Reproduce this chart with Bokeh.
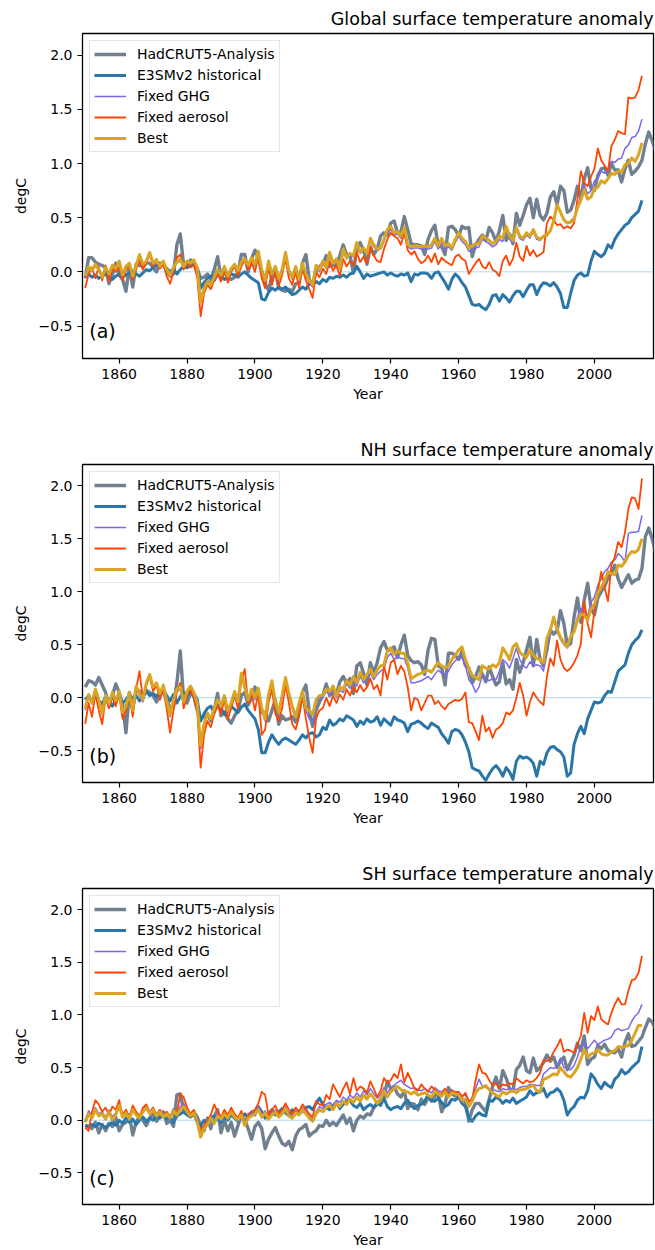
from bokeh.plotting import figure
from bokeh.models import (Range1d, FixedTicker, CustomJSTickFormatter, Legend, LegendItem,
                          Label, Span)
from bokeh.layouts import column
from bokeh.embed import file_html
from bokeh.resources import INLINE

# ---------------- data (annual means, degC anomaly) ----------------
OBS_START = 1850
MODEL_START = 1850

# Global
G_HAD = [-0.06, 0.13, 0.13, 0.09, 0.07, 0.06, 0.04, -0.11, -0.03, 0.08,
         -0.03, -0.07, -0.18, 0.05, -0.14, 0.07, 0.06, 0.05, 0.08, 0.08,
         0.04, 0.00, 0.08, 0.07, 0.01, -0.04, -0.02, 0.25, 0.35, 0.06,
         0.04, 0.11, 0.08, 0.03, -0.06, -0.05, -0.02, -0.07, 0.02, 0.14,
         -0.05, 0.00, -0.06, -0.07, -0.05, -0.01, 0.16, 0.16, 0.00, 0.12,
         0.20, 0.13, -0.01, -0.11, -0.17, -0.04, 0.02, -0.15, -0.17, -0.18,
         -0.16, -0.18, -0.11, -0.10, 0.08, 0.16, -0.07, -0.12, 0.01, 0.05,
         0.07, 0.15, 0.05, 0.06, 0.06, 0.15, 0.25, 0.16, 0.15, -0.01,
         0.22, 0.27, 0.20, 0.07, 0.23, 0.16, 0.21, 0.33, 0.36, 0.34,
         0.45, 0.47, 0.36, 0.37, 0.51, 0.39, 0.26, 0.25, 0.25, 0.24,
         0.16, 0.30, 0.38, 0.43, 0.24, 0.23, 0.16, 0.41, 0.42, 0.39,
         0.33, 0.42, 0.40, 0.41, 0.14, 0.25, 0.30, 0.34, 0.29, 0.41,
         0.36, 0.28, 0.38, 0.52, 0.29, 0.35, 0.26, 0.54, 0.43, 0.52,
         0.62, 0.68, 0.50, 0.67, 0.52, 0.48, 0.54, 0.69, 0.74, 0.62,
         0.79, 0.75, 0.55, 0.57, 0.66, 0.79, 0.68, 0.86, 0.96, 0.77,
         0.75, 0.89, 0.95, 0.96, 0.89, 1.00, 0.94, 0.94, 0.83, 0.95,
         1.03, 0.90, 0.93, 0.97, 1.03, 1.18, 1.29, 1.21, 1.12, 1.25,
         1.27]
G_E3SM = [-0.04, -0.02, -0.05, -0.03, -0.06, -0.04, -0.02, -0.05, -0.07, -0.04,
          -0.02, -0.05, -0.03, -0.01, 0.01, -0.02, -0.04, -0.01, 0.02, 0.01,
          0.04, 0.06, 0.05, 0.07, 0.03, 0.00, 0.03, -0.02, 0.02, 0.05,
          0.04, 0.06, 0.08, 0.03, -0.15, -0.10, -0.06, -0.04, -0.08, -0.02,
          -0.04, -0.07, -0.05, -0.02, -0.03, -0.05, -0.02, 0.00, -0.03, -0.06,
          -0.08, -0.10, -0.25, -0.26, -0.19, -0.15, -0.17, -0.14, -0.16, -0.14,
          -0.18, -0.21, -0.20, -0.17, -0.14, -0.16, -0.11, -0.12, -0.09, -0.11,
          -0.07, -0.09, -0.05, -0.06, -0.04, -0.05, -0.03, -0.05, -0.02, -0.01,
          0.05, 0.00, -0.06, -0.02, -0.04, -0.03, -0.02, -0.01, 0.00, -0.03,
          -0.01, -0.03, -0.04, -0.02, -0.03, -0.01, -0.09, -0.02, -0.03, -0.01,
          -0.01, -0.02, -0.06, -0.01, 0.00, -0.05, -0.10, -0.16, -0.07, -0.02,
          -0.05, -0.10, -0.14, -0.22, -0.30, -0.31, -0.30, -0.33, -0.35, -0.30,
          -0.22, -0.21, -0.27, -0.21, -0.24, -0.28, -0.22, -0.18, -0.18, -0.23,
          -0.17, -0.12, -0.12, -0.21, -0.14, -0.10, -0.11, -0.13, -0.10, -0.14,
          -0.20, -0.33, -0.33, -0.20, -0.08, -0.03, -0.01, -0.04, -0.03, 0.10,
          0.19, 0.16, 0.14, 0.17, 0.25, 0.22, 0.30, 0.35, 0.39, 0.43,
          0.45, 0.50, 0.53, 0.56, 0.66]
G_GHG = [-0.06, 0.03, 0.02, 0.05, 0.03, -0.04, 0.02, -0.03, 0.04, 0.04,
         0.08, -0.02, 0.03, 0.06, -0.03, 0.05, 0.13, 0.06, 0.09, 0.15,
         0.07, 0.09, 0.06, 0.08, 0.01, -0.02, 0.03, 0.08, 0.10, 0.04,
         0.08, 0.07, 0.09, 0.02, -0.25, -0.14, -0.08, -0.10, -0.04, 0.01,
         -0.02, 0.03, -0.05, 0.02, 0.05, 0.00, 0.07, 0.10, 0.05, 0.11,
         0.05, 0.16, 0.00, -0.09, 0.07, -0.04, 0.03, -0.07, 0.00, 0.15,
         -0.01, -0.07, 0.03, -0.09, 0.05, -0.04, -0.10, -0.14, 0.04, 0.00,
         0.08, 0.03, 0.15, 0.07, 0.10, 0.02, 0.18, 0.12, 0.15, 0.14,
         0.24, 0.17, 0.20, 0.16, 0.28, 0.23, 0.20, 0.21, 0.28, 0.36,
         0.39, 0.34, 0.35, 0.31, 0.38, 0.23, 0.21, 0.22, 0.22, 0.21,
         0.22, 0.21, 0.22, 0.28, 0.21, 0.27, 0.21, 0.23, 0.20, 0.27,
         0.33, 0.28, 0.25, 0.19, 0.20, 0.22, 0.23, 0.30, 0.28, 0.26,
         0.23, 0.25, 0.30, 0.28, 0.39, 0.30, 0.27, 0.39, 0.31, 0.29,
         0.34, 0.31, 0.37, 0.30, 0.29, 0.32, 0.33, 0.38, 0.47, 0.60,
         0.55, 0.49, 0.45, 0.47, 0.50, 0.61, 0.69, 0.80, 0.72, 0.75,
         0.84, 0.86, 0.93, 0.91, 0.96, 1.02, 1.01, 1.04, 1.05, 1.14,
         1.17, 1.24, 1.25, 1.30, 1.41]
G_AER = [-0.15, -0.02, 0.04, -0.06, 0.05, -0.08, 0.06, -0.09, 0.03, 0.00,
         0.04, -0.08, 0.02, 0.06, -0.07, 0.03, 0.10, 0.02, 0.08, 0.17,
         0.05, 0.12, 0.03, 0.07, -0.04, -0.11, 0.00, 0.13, 0.16, 0.02,
         0.08, 0.04, 0.06, -0.05, -0.41, -0.20, -0.12, -0.16, -0.08, -0.02,
         -0.09, 0.02, -0.10, 0.00, 0.05, -0.04, 0.05, 0.11, 0.02, 0.08,
         0.00, 0.14, -0.06, -0.15, 0.04, -0.12, 0.00, -0.13, -0.03, 0.12,
         -0.06, -0.12, 0.00, -0.15, 0.03, -0.08, -0.16, -0.24, 0.00, -0.05,
         0.03, -0.02, 0.10, 0.01, 0.06, -0.04, 0.12, 0.05, 0.10, 0.06,
         0.18, 0.09, 0.14, 0.08, 0.23, 0.15, 0.10, 0.09, 0.21, 0.30,
         0.36, 0.33, 0.31, 0.25, 0.36, 0.20, 0.16, 0.19, 0.12, 0.08,
         0.10, 0.15, 0.09, 0.17, 0.07, 0.13, 0.10, 0.08, 0.06, 0.14,
         0.16, 0.12, 0.10, -0.02, 0.03, 0.08, 0.12, 0.05, 0.03, 0.09,
         0.02, 0.00, -0.04, 0.10, 0.15, 0.06, 0.12, 0.27, 0.14, 0.10,
         0.24, 0.15, 0.20, 0.14, 0.16, 0.18, 0.45, 0.51, 0.48, 0.43,
         0.44, 0.40, 0.42, 0.40, 0.45, 0.67, 0.93, 0.82, 0.79, 0.88,
         0.95, 1.14, 1.03, 0.98, 0.93, 1.16, 1.22, 1.30, 1.28, 1.27,
         1.61, 1.60, 1.61, 1.68, 1.81]
G_BEST = [-0.04, 0.05, 0.01, 0.07, 0.02, -0.05, 0.04, -0.02, 0.06, 0.03,
          0.10, -0.03, 0.05, 0.08, -0.04, 0.06, 0.16, 0.07, 0.10, 0.18,
          0.08, 0.11, 0.05, 0.10, 0.02, -0.03, 0.04, 0.09, 0.12, 0.05,
          0.10, 0.08, 0.11, 0.04, -0.28, -0.16, -0.09, -0.12, -0.05, 0.02,
          -0.03, 0.05, -0.04, 0.03, 0.07, 0.01, 0.09, 0.12, 0.06, 0.13,
          0.07, 0.19, 0.02, -0.08, 0.10, -0.02, 0.05, -0.06, 0.02, 0.18,
          0.01, -0.05, 0.05, -0.07, 0.08, -0.02, -0.08, -0.12, 0.06, 0.02,
          0.10, 0.04, 0.18, 0.08, 0.12, 0.03, 0.21, 0.13, 0.17, 0.15,
          0.27, 0.18, 0.22, 0.17, 0.31, 0.25, 0.21, 0.22, 0.30, 0.39,
          0.42, 0.36, 0.37, 0.33, 0.41, 0.25, 0.23, 0.24, 0.24, 0.23,
          0.24, 0.23, 0.25, 0.31, 0.24, 0.31, 0.24, 0.26, 0.22, 0.30,
          0.36, 0.31, 0.28, 0.22, 0.24, 0.26, 0.26, 0.33, 0.31, 0.29,
          0.26, 0.28, 0.33, 0.31, 0.42, 0.33, 0.29, 0.41, 0.33, 0.31,
          0.36, 0.33, 0.39, 0.32, 0.30, 0.33, 0.34, 0.38, 0.47, 0.62,
          0.55, 0.48, 0.45, 0.46, 0.48, 0.59, 0.66, 0.76, 0.67, 0.69,
          0.77, 0.78, 0.84, 0.82, 0.86, 0.91, 0.90, 0.93, 0.92, 0.99,
          1.00, 1.05, 1.02, 1.08, 1.19]

# Northern Hemisphere
N_HAD = [0.10, 0.16, 0.15, 0.12, 0.19, 0.12, 0.05, -0.08, 0.02, 0.13,
         0.05, -0.06, -0.33, 0.05, -0.10, 0.08, 0.06, 0.02, 0.07, 0.05,
         0.02, -0.04, 0.04, 0.06, -0.02, -0.10, -0.08, 0.14, 0.44, -0.02,
         -0.05, 0.05, 0.01, -0.12, -0.20, -0.18, -0.15, -0.22, -0.12, 0.04,
         -0.17, -0.13, -0.20, -0.24, -0.17, -0.12, 0.02, 0.05, -0.07, 0.00,
         0.10, 0.02, -0.14, -0.14, -0.22, -0.12, -0.02, -0.25, -0.17, -0.21,
         -0.20, -0.18, -0.23, -0.13, 0.05, 0.12, -0.13, -0.27, -0.12, -0.04,
         0.02, 0.13, 0.02, 0.05, 0.03, 0.15, 0.20, 0.14, 0.18, 0.04,
         0.30, 0.33, 0.23, 0.12, 0.33, 0.24, 0.33, 0.47, 0.53, 0.45,
         0.45, 0.48, 0.38, 0.50, 0.59, 0.40, 0.35, 0.33, 0.34, 0.31,
         0.22, 0.45, 0.56, 0.55, 0.30, 0.28, 0.12, 0.42, 0.42, 0.40,
         0.36, 0.44, 0.30, 0.28, 0.14, 0.20, 0.29, 0.22, 0.15, 0.29,
         0.20, 0.12, 0.15, 0.33, 0.13, 0.17, 0.08, 0.36, 0.24, 0.33,
         0.45, 0.57, 0.30, 0.55, 0.36, 0.30, 0.45, 0.64, 0.60, 0.63,
         0.82, 0.70, 0.49, 0.51, 0.76, 0.94, 0.71, 0.92, 1.08, 0.85,
         0.78, 0.94, 1.00, 1.05, 1.13, 1.18, 1.25, 1.12, 1.04, 1.10,
         1.16, 1.08, 1.11, 1.12, 1.22, 1.52, 1.60, 1.50, 1.37, 1.55,
         1.62]
N_E3SM = [-0.02, 0.02, -0.04, 0.05, -0.03, -0.06, 0.01, -0.04, -0.08, -0.02,
          0.01, -0.05, -0.02, 0.03, -0.01, 0.02, -0.03, 0.00, 0.06, 0.02,
          0.04, 0.01, 0.05, 0.07, 0.02, -0.03, 0.03, -0.05, 0.01, 0.05,
          0.02, 0.06, 0.04, -0.02, -0.22, -0.15, -0.10, -0.08, -0.14, -0.06,
          -0.10, -0.16, -0.12, -0.08, -0.11, -0.14, -0.09, -0.06, -0.12, -0.16,
          -0.20, -0.30, -0.52, -0.52, -0.42, -0.35, -0.40, -0.44, -0.40, -0.38,
          -0.40, -0.42, -0.44, -0.40, -0.35, -0.38, -0.34, -0.33, -0.37, -0.35,
          -0.28, -0.30, -0.21, -0.26, -0.24, -0.20, -0.22, -0.17, -0.19, -0.21,
          -0.27, -0.22, -0.25, -0.20, -0.23, -0.22, -0.18, -0.26, -0.20, -0.23,
          -0.26, -0.18, -0.21, -0.22, -0.24, -0.32, -0.25, -0.24, -0.22, -0.24,
          -0.27, -0.29, -0.24, -0.26, -0.28, -0.34, -0.38, -0.43, -0.32, -0.30,
          -0.31, -0.35, -0.42, -0.51, -0.66, -0.68, -0.69, -0.74, -0.78, -0.72,
          -0.67, -0.64, -0.68, -0.74, -0.66, -0.70, -0.77, -0.60, -0.55, -0.57,
          -0.56, -0.58, -0.62, -0.74, -0.60, -0.63, -0.52, -0.47, -0.46, -0.49,
          -0.51, -0.56, -0.74, -0.71, -0.44, -0.34, -0.27, -0.34, -0.20, -0.12,
          -0.04, -0.05, -0.04, 0.02, 0.06, 0.05, 0.15, 0.25, 0.28, 0.31,
          0.42, 0.50, 0.54, 0.57, 0.64]
N_GHG = [-0.12, 0.01, -0.06, 0.06, -0.04, -0.16, 0.00, -0.07, 0.03, -0.05,
         0.04, -0.15, -0.10, 0.03, -0.13, 0.09, 0.02, -0.04, 0.12, 0.19,
         0.08, 0.12, 0.02, 0.10, -0.05, -0.18, -0.04, 0.06, 0.08, -0.06,
         0.04, 0.09, 0.03, -0.07, -0.48, -0.27, -0.17, -0.21, -0.12, -0.04,
         -0.10, 0.00, -0.14, -0.07, 0.04, -0.06, 0.21, 0.08, -0.04, 0.06,
         -0.02, 0.07, -0.12, -0.22, 0.01, 0.14, -0.06, -0.16, 0.00, 0.17,
         0.02, -0.10, -0.20, -0.07, 0.04, -0.12, -0.20, -0.24, -0.05, 0.00,
         0.00, 0.06, 0.03, 0.08, 0.00, 0.07, 0.05, 0.13, 0.09, 0.17,
         0.11, 0.20, 0.14, 0.19, 0.23, 0.17, 0.22, 0.25, 0.27, 0.38,
         0.42, 0.36, 0.39, 0.37, 0.37, 0.28, 0.14, 0.14, 0.15, 0.16,
         0.18, 0.20, 0.17, 0.22, 0.26, 0.23, 0.21, 0.25, 0.31, 0.35,
         0.37, 0.38, 0.30, 0.17, 0.13, 0.05, 0.10, 0.22, 0.18, 0.16,
         0.18, 0.17, 0.25, 0.36, 0.33, 0.28, 0.37, 0.47, 0.36, 0.30,
         0.28, 0.34, 0.30, 0.31, 0.30, 0.25, 0.50, 0.62, 0.74, 0.62,
         0.55, 0.50, 0.47, 0.57, 0.63, 0.76, 0.84, 0.81, 0.77, 0.90,
         0.95, 1.06, 1.12, 1.19, 1.22, 1.28, 1.30, 1.36, 1.33, 1.28,
         1.55, 1.56, 1.56, 1.57, 1.72]
N_AER = [-0.25, -0.05, -0.18, 0.04, -0.12, -0.25, 0.00, -0.10, 0.02, -0.08,
         0.03, -0.20, -0.12, 0.02, -0.18, 0.08, 0.25, -0.02, 0.12, 0.20,
         0.06, 0.12, -0.02, 0.08, -0.10, -0.33, -0.12, 0.05, 0.14, -0.10,
         0.02, 0.08, 0.00, -0.12, -0.66, -0.35, -0.22, -0.28, -0.15, -0.08,
         -0.15, -0.02, -0.20, -0.10, 0.02, -0.10, 0.16, 0.27, -0.06, 0.04,
         -0.12, 0.05, -0.35, -0.30, -0.05, 0.08, -0.15, -0.22, -0.10, 0.12,
         -0.05, -0.25, -0.30, -0.18, 0.02, -0.20, -0.38, -0.52, -0.20, -0.12,
         -0.10, 0.00, -0.08, 0.02, -0.05, 0.03, -0.02, 0.08, 0.02, 0.10,
         0.05, 0.12, 0.06, 0.10, 0.18, 0.08, 0.12, 0.02, 0.30, 0.17,
         0.33, 0.36, 0.22, 0.30, 0.25, 0.10, -0.12, 0.00, -0.02, -0.12,
         -0.05, 0.02, 0.02, -0.06, -0.03, -0.08, -0.11, -0.06, -0.04, -0.02,
         -0.03, -0.01, 0.05, -0.23, -0.24, -0.32, -0.40, -0.17, -0.32, -0.28,
         -0.38, -0.30, -0.28, -0.24, -0.14, -0.16, -0.12, 0.00, 0.14, 0.02,
         -0.17, -0.04, 0.05, 0.00, -0.04, -0.07, 0.20, 0.37, 0.30, 0.54,
         0.36, 0.28, 0.25, 0.28, 0.33, 0.40, 0.51, 0.91, 0.70, 0.57,
         0.82, 1.00, 1.19, 1.04, 0.91, 1.25, 1.33, 1.47, 1.42, 1.56,
         1.78, 1.89, 1.88, 1.78, 2.07]
N_BEST = [-0.10, 0.03, -0.05, 0.08, -0.02, -0.15, 0.02, -0.06, 0.05, -0.03,
          0.06, -0.14, -0.08, 0.05, -0.12, 0.11, 0.04, -0.02, 0.14, 0.22,
          0.10, 0.14, 0.04, 0.12, -0.03, -0.16, -0.02, 0.08, 0.10, -0.04,
          0.06, 0.11, 0.05, -0.05, -0.45, -0.25, -0.15, -0.20, -0.10, -0.02,
          -0.08, 0.02, -0.12, -0.05, 0.06, -0.04, 0.23, 0.10, -0.02, 0.08,
          0.00, 0.09, -0.10, -0.20, 0.03, 0.16, -0.04, -0.14, 0.02, 0.19,
          0.04, -0.08, -0.18, -0.05, 0.06, -0.10, -0.12, -0.16, -0.02, 0.02,
          0.02, 0.08, 0.06, 0.11, 0.02, 0.10, 0.08, 0.16, 0.12, 0.20,
          0.14, 0.24, 0.17, 0.22, 0.27, 0.20, 0.26, 0.30, 0.31, 0.44,
          0.47, 0.41, 0.44, 0.42, 0.42, 0.33, 0.18, 0.20, 0.22, 0.23,
          0.25, 0.26, 0.24, 0.29, 0.33, 0.30, 0.28, 0.30, 0.36, 0.40,
          0.45, 0.48, 0.36, 0.28, 0.21, 0.19, 0.17, 0.30, 0.28, 0.27,
          0.31, 0.29, 0.33, 0.47, 0.42, 0.36, 0.48, 0.51, 0.43, 0.40,
          0.38, 0.45, 0.40, 0.37, 0.36, 0.33, 0.56, 0.64, 0.76, 0.65,
          0.57, 0.52, 0.48, 0.58, 0.62, 0.73, 0.79, 0.78, 0.73, 0.84,
          0.88, 0.99, 1.04, 1.10, 1.19, 1.17, 1.16, 1.25, 1.24, 1.28,
          1.34, 1.38, 1.37, 1.40, 1.50]

# Southern Hemisphere
S_HAD = [-0.05, -0.06, -0.08, -0.02, -0.12, -0.04, -0.10, -0.03, -0.06, 0.03,
         -0.10, -0.04, -0.02, 0.05, -0.14, -0.02, 0.04, 0.00, -0.05, 0.02,
         0.06, -0.01, 0.04, 0.08, -0.03, 0.00, -0.06, 0.24, 0.25, 0.10,
         0.06, 0.05, 0.08, 0.03, -0.05, -0.10, 0.02, -0.08, 0.04, 0.10,
         -0.12, 0.00, -0.10, -0.02, -0.15, -0.05, 0.05, 0.00, -0.08, -0.18,
         -0.06, -0.02, -0.08, -0.27, -0.18, -0.12, -0.07, -0.15, -0.22, -0.24,
         -0.20, -0.28, -0.15, -0.09, -0.07, -0.04, -0.15, -0.12, -0.10, -0.05,
         -0.06, 0.00, -0.05, -0.02, -0.05, 0.00, 0.05, -0.03, 0.02, -0.10,
         0.00, 0.04, 0.02, 0.06, 0.05, 0.12, 0.15, 0.20, 0.22, 0.37,
         0.30, 0.32, 0.25, 0.22, 0.28, 0.11, 0.16, 0.15, 0.10, 0.20,
         0.15, 0.22, 0.18, 0.23, 0.25, 0.08, 0.15, 0.31, 0.25, 0.23,
         0.23, 0.20, 0.18, -0.01, 0.10, 0.16, 0.16, 0.12, 0.08, 0.20,
         0.32, 0.41, 0.30, 0.47, 0.40, 0.30, 0.28, 0.48, 0.52, 0.60,
         0.47, 0.45, 0.59, 0.47, 0.50, 0.55, 0.62, 0.56, 0.60, 0.50,
         0.56, 0.60, 0.48, 0.55, 0.62, 0.73, 0.66, 0.80, 0.53, 0.58,
         0.60, 0.71, 0.68, 0.72, 0.66, 0.65, 0.64, 0.68, 0.60, 0.74,
         0.82, 0.70, 0.71, 0.75, 0.79, 0.88, 0.96, 0.93, 0.87, 0.92,
         0.90]
S_E3SM = [-0.05, -0.06, -0.04, -0.06, -0.03, -0.05, -0.07, -0.04, -0.02, -0.05,
          0.00, -0.03, 0.02, -0.02, 0.01, -0.04, 0.00, 0.03, -0.01, 0.02,
          0.00, 0.04, 0.02, 0.05, 0.01, 0.03, -0.02, 0.04, 0.06, 0.08,
          0.05, 0.03, 0.06, -0.02, -0.05, 0.00, -0.03, 0.02, 0.04, 0.01,
          -0.02, 0.03, 0.00, 0.05, 0.02, -0.01, 0.04, 0.06, 0.02, 0.08,
          0.05, 0.13, 0.08, 0.02, 0.06, 0.10, 0.05, 0.08, 0.11, 0.07,
          0.04, 0.10, 0.06, 0.09, 0.08, 0.12, 0.13, 0.10, 0.16, 0.21,
          0.15, 0.12, 0.10, 0.14, 0.17, 0.11, 0.15, 0.18, 0.19, 0.14,
          0.12, 0.16, 0.10, 0.13, 0.15, 0.12, 0.17, 0.14, 0.21, 0.13,
          0.10, 0.12, 0.13, 0.11, 0.16, 0.19, 0.14, 0.11, 0.14, 0.15,
          0.18, 0.24, 0.19, 0.18, 0.21, 0.17, 0.13, 0.15, 0.20, 0.19,
          0.22, 0.16, 0.13, 0.02, -0.01, 0.04, 0.07, 0.05, 0.04, 0.19,
          0.18, 0.22, 0.20, 0.16, 0.19, 0.17, 0.21, 0.16, 0.18, 0.20,
          0.22, 0.28, 0.24, 0.26, 0.27, 0.30, 0.22, 0.26, 0.27, 0.30,
          0.27, 0.19, 0.05, 0.10, 0.13, 0.19, 0.22, 0.21, 0.28, 0.44,
          0.40, 0.34, 0.30, 0.36, 0.33, 0.31, 0.39, 0.42, 0.48, 0.44,
          0.46, 0.50, 0.53, 0.56, 0.70]
S_GHG = [0.00, 0.09, 0.04, 0.12, 0.06, 0.08, 0.03, 0.10, 0.03, 0.07,
         0.15, 0.05, 0.09, 0.03, 0.12, 0.07, 0.04, 0.10, 0.14, 0.08,
         0.12, 0.06, 0.10, 0.05, 0.08, 0.04, 0.11, 0.07, 0.13, 0.16,
         0.10, 0.06, 0.09, 0.00, -0.14, -0.06, -0.02, 0.04, -0.01, 0.06,
         0.03, 0.08, 0.04, 0.10, 0.05, 0.02, 0.07, -0.02, 0.04, 0.06,
         0.09, 0.14, 0.05, 0.09, 0.03, 0.07, 0.10, 0.05, 0.08, 0.13,
         0.06, 0.04, 0.09, 0.07, 0.12, 0.08, 0.04, 0.01, 0.08, 0.13,
         0.11, 0.15, 0.17, 0.14, 0.19, 0.17, 0.22, 0.19, 0.24, 0.21,
         0.26, 0.22, 0.28, 0.24, 0.30, 0.25, 0.21, 0.24, 0.31, 0.26,
         0.31, 0.33, 0.36, 0.38, 0.34, 0.32, 0.30, 0.31, 0.29, 0.28,
         0.30, 0.28, 0.26, 0.31, 0.28, 0.27, 0.30, 0.25, 0.29, 0.26,
         0.27, 0.23, 0.24, 0.17, 0.22, 0.30, 0.39, 0.32, 0.31, 0.30,
         0.29, 0.28, 0.27, 0.30, 0.29, 0.30, 0.30, 0.29, 0.31, 0.32,
         0.32, 0.34, 0.34, 0.33, 0.33, 0.44, 0.47, 0.50, 0.49, 0.52,
         0.59, 0.50, 0.49, 0.48, 0.52, 0.60, 0.70, 0.74, 0.68, 0.72,
         0.76, 0.72, 0.74, 0.76, 0.77, 0.79, 0.85, 0.87, 0.85, 0.86,
         0.87, 0.94, 0.99, 1.02, 1.10]
S_AER = [-0.07, -0.10, 0.08, 0.19, 0.15, 0.08, 0.12, 0.05, 0.13, 0.10,
         0.19, 0.05, 0.10, 0.03, 0.14, 0.08, 0.04, 0.12, 0.15, 0.07,
         0.12, 0.05, 0.10, 0.04, 0.08, 0.03, 0.10, 0.06, 0.25, 0.22,
         0.12, 0.06, 0.10, -0.01, -0.10, -0.05, 0.00, 0.05, 0.15, 0.08,
         0.03, 0.10, 0.05, 0.12, 0.06, 0.02, 0.09, -0.04, 0.06, 0.08,
         0.10, 0.16, 0.27, 0.24, 0.05, 0.10, 0.14, 0.06, 0.10, 0.16,
         0.10, 0.06, 0.12, 0.08, 0.15, 0.11, 0.06, 0.03, 0.18, 0.15,
         0.14, 0.24, 0.20, 0.34, 0.28, 0.22, 0.30, 0.36, 0.25, 0.40,
         0.28, 0.32, 0.30, 0.26, 0.37, 0.30, 0.22, 0.28, 0.40, 0.35,
         0.38, 0.44, 0.40, 0.53, 0.36, 0.45, 0.38, 0.30, 0.28, 0.34,
         0.30, 0.27, 0.32, 0.29, 0.26, 0.25, 0.30, 0.24, 0.28, 0.27,
         0.27, 0.22, 0.26, 0.18, 0.20, 0.38, 0.53, 0.45, 0.44, 0.38,
         0.33, 0.35, 0.30, 0.34, 0.33, 0.35, 0.34, 0.40, 0.37, 0.35,
         0.38, 0.36, 0.37, 0.40, 0.45, 0.57, 0.56, 0.58, 0.65, 0.70,
         0.77, 0.65, 0.67, 0.66, 0.64, 0.72, 0.80, 1.02, 0.83, 0.99,
         0.95, 1.08, 0.96, 0.93, 0.91, 1.02, 1.10, 1.16, 1.10, 1.10,
         1.23, 1.33, 1.34, 1.40, 1.56]
S_BEST = [-0.02, 0.06, 0.02, 0.10, 0.04, 0.06, 0.01, 0.08, 0.00, 0.05,
          0.14, 0.03, 0.07, 0.01, 0.10, 0.05, 0.02, 0.08, 0.12, 0.06,
          0.10, 0.04, 0.08, 0.03, 0.06, 0.02, 0.09, 0.05, 0.10, 0.13,
          0.08, 0.04, 0.07, -0.02, -0.16, -0.08, -0.04, 0.02, -0.03, 0.04,
          0.01, 0.06, 0.02, 0.08, 0.03, 0.00, 0.05, -0.05, 0.02, 0.04,
          0.06, 0.10, 0.03, 0.07, 0.01, 0.05, 0.08, 0.03, 0.06, 0.11,
          0.04, 0.02, 0.07, 0.05, 0.10, 0.06, 0.02, -0.01, 0.06, 0.10,
          0.08, 0.12, 0.14, 0.10, 0.16, 0.13, 0.18, 0.15, 0.20, 0.17,
          0.22, 0.18, 0.24, 0.20, 0.25, 0.21, 0.16, 0.19, 0.28, 0.22,
          0.27, 0.30, 0.32, 0.29, 0.27, 0.27, 0.25, 0.27, 0.24, 0.25,
          0.26, 0.24, 0.22, 0.27, 0.25, 0.23, 0.27, 0.22, 0.26, 0.25,
          0.24, 0.19, 0.20, 0.13, 0.18, 0.26, 0.30, 0.31, 0.33, 0.29,
          0.26, 0.24, 0.22, 0.27, 0.25, 0.27, 0.28, 0.26, 0.29, 0.29,
          0.30, 0.32, 0.33, 0.28, 0.27, 0.39, 0.40, 0.42, 0.44, 0.43,
          0.50, 0.46, 0.42, 0.41, 0.45, 0.50, 0.58, 0.67, 0.60, 0.63,
          0.64, 0.67, 0.63, 0.62, 0.62, 0.65, 0.66, 0.70, 0.69, 0.70,
          0.71, 0.76, 0.83, 0.90, 0.90]

SERIES_NAMES = ["HadCRUT5-Analysis", "E3SMv2 historical", "Fixed GHG", "Fixed aerosol", "Best"]
PANEL_TITLES = ["Global surface temperature anomaly", "NH surface temperature anomaly",
                "SH surface temperature anomaly"]
PANEL_LABELS = ["(a)", "(b)", "(c)"]
X_TICKS = [1860, 1880, 1900, 1920, 1940, 1960, 1980, 2000, 2020]

# ---------------- styling ----------------
FONT = "DejaVu Sans"
COLORS = ["#708090", "#2a76a9", "#7b68ee", "#ff4500", "#daa520"]
WIDTHS = [3.4, 3.0, 1.5, 1.8, 3.0]

YFMT = CustomJSTickFormatter(code="""
    return tick < 0 ? '\\u2212' + (-tick).toFixed(1) : tick.toFixed(1);
""")


def years_for(start, series):
    return [start + i for i in range(len(series))]


def make_panel(idx, data, height, border_top, border_bottom):
    p = figure(width=655, height=height, output_backend="svg", toolbar_location=None,
               x_range=Range1d(1849.2, 2017.4), y_range=Range1d(-0.8, 2.2),
               min_border_left=82, min_border_right=2,
               min_border_top=border_top, min_border_bottom=border_bottom)
    p.title.text = PANEL_TITLES[idx]
    p.title.align = "right"
    p.title.text_font = FONT
    p.title.text_font_size = "17.5px"
    p.title.text_font_style = "normal"
    p.title.text_color = "#000000"
    p.title.standoff = 9

    p.grid.visible = False
    p.outline_line_color = "#000000"
    p.outline_line_width = 1.3
    p.background_fill_color = "#ffffff"
    p.border_fill_color = "#ffffff"

    for ax in (p.xaxis[0], p.yaxis[0]):
        ax.axis_line_color = None
        ax.major_tick_in = 0
        ax.major_tick_out = 5
        ax.major_tick_line_width = 1.2
        ax.minor_tick_line_color = None
        ax.major_label_standoff = 5
        ax.major_label_text_font = FONT
        ax.major_label_text_font_size = "14px"
        ax.major_label_text_color = "#000000"
        ax.axis_label_text_font = FONT
        ax.axis_label_text_font_size = "14px"
        ax.axis_label_text_font_style = "normal"
        ax.axis_label_text_color = "#000000"
    p.xaxis[0].ticker = FixedTicker(ticks=X_TICKS)
    p.xaxis[0].axis_label = "Year"
    p.xaxis[0].axis_label_standoff = 4
    p.yaxis[0].ticker = FixedTicker(ticks=[-0.5, 0.0, 0.5, 1.0, 1.5, 2.0])
    p.yaxis[0].formatter = YFMT
    p.yaxis[0].axis_label = "degC"
    p.yaxis[0].axis_label_standoff = 7

    p.add_layout(Span(location=0, dimension="width", line_color="#4f97cf",
                      line_width=0.9, line_dash="1 1", line_alpha=0.9))

    items = []
    starts = [OBS_START, MODEL_START, MODEL_START, MODEL_START, MODEL_START]
    for k, series in enumerate(data):
        r = p.line(years_for(starts[k], series), series, line_color=COLORS[k],
                   line_width=WIDTHS[k], line_join="round")
        items.append(LegendItem(label=SERIES_NAMES[k], renderers=[r]))

    leg = Legend(items=items, location="top_left", margin=7, padding=4, spacing=3,
                 label_height=18, glyph_height=18, glyph_width=32, label_standoff=11,
                 label_text_font=FONT, label_text_font_size="14px", label_text_color="#000000",
                 border_line_color="#cccccc", border_line_width=1,
                 background_fill_color="#ffffff", background_fill_alpha=0.8)
    p.add_layout(leg)

    p.add_layout(Label(x=1851.2, y=-0.55, text=PANEL_LABELS[idx], text_font=FONT,
                       text_font_size="19px", text_baseline="middle", text_align="left",
                       text_color="#000000"))
    return p


p1 = make_panel(0, [G_HAD, G_E3SM, G_GHG, G_AER, G_BEST], 433, 33, 75)
p2 = make_panel(1, [N_HAD, N_E3SM, N_GHG, N_AER, N_BEST], 424, 25, 75)
p3 = make_panel(2, [S_HAD, S_E3SM, S_GHG, S_AER, S_BEST], 393, 25, 42)

layout = column(p1, p2, p3, spacing=0)
open("out.html", "w").write(file_html(layout, INLINE))
